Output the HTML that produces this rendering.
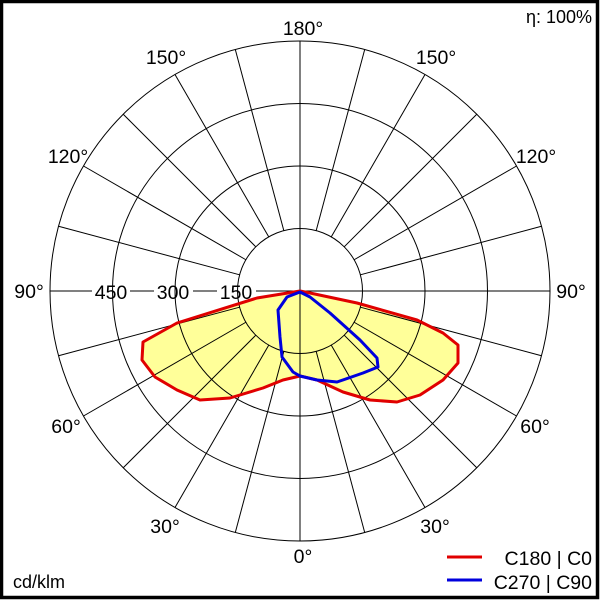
<!DOCTYPE html>
<html><head><style>html,body{margin:0;padding:0;background:#fff}</style></head>
<body>
<svg id="s" width="600" height="600" xmlns="http://www.w3.org/2000/svg" font-family="Liberation Sans, Arial, sans-serif" font-size="19.5">
<rect x="1.5" y="1.5" width="596" height="596" fill="#fff" stroke="#000" stroke-width="3.5"/>
<polygon fill="#ffff99" stroke="none" points="300,291 257,298 177,323 143,342 142,360 155,377 177,390 200,400 230,398 263,388 283,380 300,376 317,380 343,392 370,400 397,402 420,395 443,380 458,363 458,345 443,333 417,320 357,303 310,293"/>
<g id="grid" stroke="#000" stroke-width="1" fill="none">
<circle cx="300" cy="291" r="62.5"/>
<circle cx="300" cy="291" r="125"/>
<circle cx="300" cy="291" r="187.5"/>
<circle cx="300" cy="291" r="250"/>
</g>
<polygon fill="none" stroke="#e00000" stroke-width="3" stroke-linejoin="round" points="300,291 257,298 177,323 143,342 142,360 155,377 177,390 200,400 230,398 263,388 283,380 300,376 317,380 343,392 370,400 397,402 420,395 443,380 458,363 458,345 443,333 417,320 357,303 310,293"/>
<polygon fill="none" stroke="#0000dd" stroke-width="3" stroke-linejoin="round" points="300,292 287,297 278,310 280,337 282,357 293,372 300,376 317,380 337,382 363,373 378,367 377,358 360,340 330,313 310,297"/>
<g id="txt" fill="#000">
<text x="303" y="35" text-anchor="middle">180°</text>
<text x="166" y="64" text-anchor="middle">150°</text>
<text x="436" y="64" text-anchor="middle">150°</text>
<text x="68" y="163" text-anchor="middle">120°</text>
<text x="536" y="163" text-anchor="middle">120°</text>
<text x="29" y="298" text-anchor="middle">90°</text>
<text x="571" y="298" text-anchor="middle">90°</text>
<text x="66" y="433" text-anchor="middle">60°</text>
<text x="535" y="433" text-anchor="middle">60°</text>
<text x="165" y="533" text-anchor="middle">30°</text>
<text x="435" y="533" text-anchor="middle">30°</text>
<text x="303" y="563" text-anchor="middle">0°</text>
<text x="111" y="299" text-anchor="middle">450</text>
<text x="173" y="299" text-anchor="middle">300</text>
<text x="236" y="299" text-anchor="middle">150</text>
<text x="592" y="23" text-anchor="end" font-size="18">η: 100%</text>
<text x="13" y="588" font-size="18">cd/klm</text>
<text x="592" y="565" text-anchor="end">C180 | C0</text>
<text x="592" y="589" text-anchor="end">C270 | C90</text>
</g>
<line x1="447" y1="557" x2="482" y2="557" stroke="#e00000" stroke-width="3"/>
<line x1="447" y1="580" x2="482" y2="580" stroke="#0000dd" stroke-width="3"/>
</svg>
<script>
var g=document.getElementById('grid'),ns='http://www.w3.org/2000/svg';
function L(x1,y1,x2,y2){var l=document.createElementNS(ns,'line');l.setAttribute('x1',x1);l.setAttribute('y1',y1);l.setAttribute('x2',x2);l.setAttribute('y2',y2);g.appendChild(l);}
for(var a=0;a<360;a+=15){
 if(a==90||a==270)continue;
 var t=a*Math.PI/180,s=Math.sin(t),c=Math.cos(t);
 var r0=(a==0||a==180)?0:62.5;
 L(300+r0*s,291+r0*c,300+250*s,291+250*c);
}
L(50,291,92,291);L(130,291,154,291);L(193,291,217,291);L(256,291,550,291);
</script>
</body></html>
